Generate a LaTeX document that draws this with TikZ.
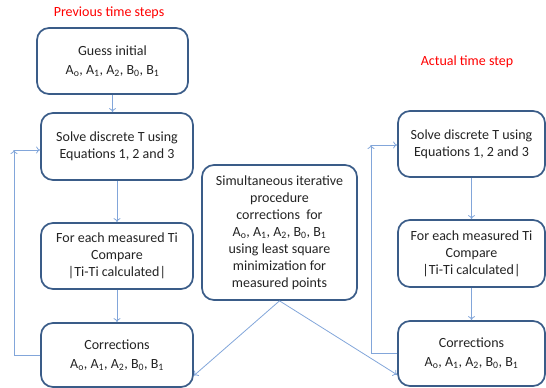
\documentclass[tikz,border=0pt]{standalone}
\usepackage{fontspec}
\setmainfont{Carlito}
\usepackage{tikz}
\usetikzlibrary{arrows.meta,calc}
\definecolor{boxblue}{RGB}{58,92,136}
\definecolor{linkblue}{RGB}{130,166,218}
\definecolor{txtgray}{RGB}{35,35,35}
\newcommand{\coefs}{A\textsubscript{o}, A\textsubscript{1}, A\textsubscript{2}, B\textsubscript{0}, B\textsubscript{1}}

\begin{document}
\begin{tikzpicture}[x=1pt,y=-1pt,
		box/.style={draw=boxblue,line width=1.7pt,rounded corners=12pt,align=center,text=txtgray,font=\fontsize{14}{17}\selectfont,minimum width=152pt,minimum height=66pt,inner sep=0pt},
		link/.style={draw=linkblue,line width=0.8pt,-{To[length=4pt,width=7pt]}},
		steplabel/.style={text=red,font=\fontsize{14}{16}\selectfont}]
		\useasboundingbox (0,0) rectangle (546,388);
		\node[steplabel] (prevlbl) at (109,13) {Previous time steps};
		\node[steplabel] (actlbl) at (467,62) {Actual time step};
		\node[box,minimum width=151pt] (guess) at (112.5,61) {Guess initial\\[2pt]\coefs};
		\node[box,minimum height=67pt] (solveL) at (117,146.5) {Solve discrete T using\\Equations 1, 2 and 3};
		\node[box] (compL) at (117,256) {For each measured Ti\\Compare\\|Ti-Ti calculated|};
		\node[box,minimum height=64pt] (corrL) at (117,355) {Corrections\\[2pt]\coefs};
		\node[box,minimum width=155pt,minimum height=135pt] (mid) at (279.5,232.5) {Simultaneous iterative\\procedure\\corrections~ for\\\coefs\\using least square\\minimization for\\measured points};
		\node[box,minimum width=147pt] (solveR) at (471.5,144) {Solve discrete T using\\Equations 1, 2 and 3};
		\node[box,minimum width=147pt,minimum height=67pt] (compR) at (471.5,253.5) {For each measured Ti\\Compare\\|Ti-Ti calculated|};
		\node[box,minimum width=147pt,minimum height=65pt] (corrR) at (471.5,353.5) {Corrections\\[2pt]\coefs};
		\coordinate (loopL) at (14,150);
		\coordinate (loopR) at (371,145);
		\draw[link] (guess.south) -- (guess.south |- solveL.north);
		\draw[link] (solveL.south) -- (compL.north);
		\draw[link] (compL.south) -- (corrL.north);
		\draw[link] (corrL.west) -| (loopL);
		\draw[link] (loopL) -- (loopL -| solveL.west);
		\draw[link] (solveR.south) -- (compR.north);
		\draw[link] (compR.south) -- (corrR.north);
		\draw[link] (corrR.west) -| (loopR);
		\draw[link] (loopR) -- (loopR -| solveR.west);
		\draw[link] (mid.south) -- (corrL.-15);
		\draw[link] (mid.south) -- (corrR.196);
\end{tikzpicture}
\end{document}
